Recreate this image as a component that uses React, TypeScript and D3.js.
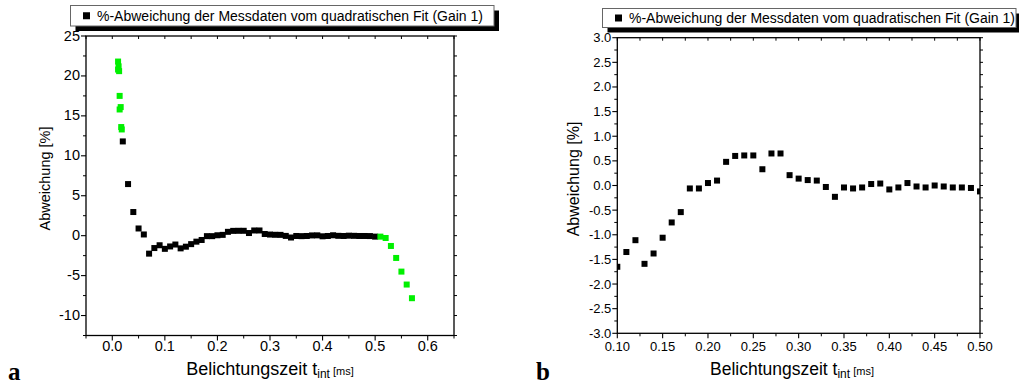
import React from "react";
import * as d3 from "d3";

// ---------- DATA ----------
// Panel a: green (excluded) points at the start
const aGreenStartX = [0.011, 0.012, 0.011, 0.013, 0.014, 0.016, 0.014, 0.017, 0.018];
const aGreenStartY = [21.8, 21.2, 20.8, 20.6, 17.5, 16.1, 15.8, 13.6, 13.3];
// Panel a: green (excluded) points at the end
const aGreenEndX = [0.51, 0.52, 0.53, 0.54, 0.55, 0.56, 0.57];
const aGreenEndY = [-0.12, -0.29, -1.29, -2.79, -4.5, -6.12, -7.83];
// Panel a: early black points (before 0.10)
const aEarlyX = [0.02, 0.03, 0.04, 0.05, 0.06, 0.07, 0.08, 0.09];
const aEarlyY = [11.8, 6.46, 2.96, 0.9, 0.15, -2.25, -1.55, -1.2];
// Black points 0.10 .. 0.50 (shared by both panels)
const mainX = [
  0.10, 0.11, 0.12, 0.13, 0.14, 0.15, 0.16, 0.17, 0.18, 0.19,
  0.20, 0.21, 0.22, 0.23, 0.24, 0.25, 0.26, 0.27, 0.28, 0.29,
  0.30, 0.31, 0.32, 0.33, 0.34, 0.35, 0.36, 0.37, 0.38, 0.39,
  0.40, 0.41, 0.42, 0.43, 0.44, 0.45, 0.46, 0.47, 0.48, 0.49, 0.50,
];
const mainY = [
  -1.65, -1.35, -1.11, -1.59, -1.38, -1.06, -0.75, -0.54, -0.06, -0.06,
  0.05, 0.10, 0.48, 0.60, 0.61, 0.61, 0.33, 0.65, 0.65, 0.21,
  0.14, 0.11, 0.10, -0.03, -0.23, -0.04, -0.06, -0.04, 0.03, 0.04,
  -0.08, -0.04, 0.05, -0.02, -0.04, 0.00, -0.02, -0.04, -0.04, -0.05, -0.12,
];

// Tick values
const aXMajor = [0.0, 0.1, 0.2, 0.3, 0.4, 0.5, 0.6];
const aXMinor = [-0.05, 0.05, 0.15, 0.25, 0.35, 0.45, 0.55, 0.65];
const aYMajor = [-10, -5, 0, 5, 10, 15, 20, 25];
const aYMinor = [-12.5, -7.5, -2.5, 2.5, 7.5, 12.5, 17.5, 22.5];
const bXMajor = [0.10, 0.15, 0.20, 0.25, 0.30, 0.35, 0.40, 0.45, 0.50];
const bXMinor = [0.125, 0.175, 0.225, 0.275, 0.325, 0.375, 0.425, 0.475];
const bYMajor = [-3.0, -2.5, -2.0, -1.5, -1.0, -0.5, 0.0, 0.5, 1.0, 1.5, 2.0, 2.5, 3.0];
const bYMinor = [-2.75, -2.25, -1.75, -1.25, -0.75, -0.25, 0.25, 0.75, 1.25, 1.75, 2.25, 2.75];

const legendText = "%-Abweichung der Messdaten vom quadratischen Fit (Gain 1)";
const yTitle = "Abweichung [%]";
const xTitleMain = "Belichtungszeit t";
const xTitleSub = "int";
const xTitleUnit = " [ms]";

const GREEN = "#00f000";
const FONT = "'Liberation Sans', Arial, Helvetica, sans-serif";

type Series = { xs: number[]; ys: number[]; color: string };

type PanelProps = {
  id: string;
  xDomain: [number, number];
  yDomain: [number, number];
  left: number;
  right: number;
  top: number;
  bottom: number;
  xMajor: number[];
  xMinor: number[];
  yMajor: number[];
  yMinor: number[];
  xFmt: (v: number) => string;
  yFmt: (v: number) => string;
  tickFont: number;
  series: Series[];
  legend: { x0: number; x1: number; y0: number; y1: number };
  yTitleX: number;
  yTitleY: number;
  yTitleFont: number;
  xTitleX: number;
  xTitleFont: number;
  letter: string;
  letterX: number;
  marker: number;
};

const fmt = (digits: number) => (v: number) => {
  const s = Math.abs(v) < 1e-9 ? (0).toFixed(digits) : v.toFixed(digits);
  return s;
};

function Panel(p: PanelProps) {
  const x = d3.scaleLinear().domain(p.xDomain).range([p.left, p.right]);
  const y = d3.scaleLinear().domain(p.yDomain).range([p.bottom, p.top]);
  const clipId = `clip-${p.id}`;
  const sw = 1.3;
  const m = p.marker;
  return (
    <g>
      <defs>
        <clipPath id={clipId}>
          <rect x={p.left} y={p.top} width={p.right - p.left} height={p.bottom - p.top} />
        </clipPath>
      </defs>
      {/* legend */}
      <rect x={p.legend.x0 + 5} y={p.legend.y0 + 5} width={p.legend.x1 - p.legend.x0} height={p.legend.y1 - p.legend.y0} fill="#000" />
      <rect x={p.legend.x0} y={p.legend.y0} width={p.legend.x1 - p.legend.x0} height={p.legend.y1 - p.legend.y0} fill="#fff" stroke="#666" strokeWidth={1} />
      <rect x={p.legend.x0 + 12.5} y={(p.legend.y0 + p.legend.y1) / 2 - 3.5} width={7} height={7} fill="#000" />
      <text x={p.legend.x0 + 26.5} y={(p.legend.y0 + p.legend.y1) / 2 + 5} fontFamily={FONT} fontSize={14} fill="#000">
        {legendText}
      </text>

      {/* markers */}
      <g clipPath={`url(#${clipId})`}>
        {p.series.map((s, si) =>
          s.xs.map((xv, i) => (
            <rect key={`${si}-${i}`} x={x(xv) - m / 2} y={y(s.ys[i]) - m / 2} width={m} height={m} fill={s.color} />
          ))
        )}
      </g>

      {/* frame */}
      <rect x={p.left} y={p.top} width={p.right - p.left} height={p.bottom - p.top} fill="none" stroke="#000" strokeWidth={sw} />

      {/* bottom ticks */}
      {p.xMajor.map((v) => (
        <g key={`xb${v}`}>
          <line x1={x(v)} x2={x(v)} y1={p.bottom} y2={p.bottom + 5} stroke="#000" strokeWidth={1.1} />
          <line x1={x(v)} x2={x(v)} y1={p.top} y2={p.top + 3} stroke="#000" strokeWidth={1} />
          <text x={x(v)} y={351} textAnchor="middle" fontFamily={FONT} fontSize={p.tickFont} fill="#000">
            {p.xFmt(v)}
          </text>
        </g>
      ))}
      {p.xMinor.map((v) => (
        <g key={`xm${v}`}>
          <line x1={x(v)} x2={x(v)} y1={p.bottom} y2={p.bottom + 3} stroke="#000" strokeWidth={1} />
          <line x1={x(v)} x2={x(v)} y1={p.top} y2={p.top + 3} stroke="#000" strokeWidth={1} />
        </g>
      ))}
      {/* left / right ticks */}
      {p.yMajor.map((v) => (
        <g key={`yl${v}`}>
          <line x1={p.left - 5} x2={p.left} y1={y(v)} y2={y(v)} stroke="#000" strokeWidth={1.1} />
          <line x1={p.right} x2={p.right + 3} y1={y(v)} y2={y(v)} stroke="#000" strokeWidth={1} />
          <text x={p.left - 6} y={y(v) + 4.5} textAnchor="end" fontFamily={FONT} fontSize={p.tickFont} fill="#000">
            {p.yFmt(v)}
          </text>
        </g>
      ))}
      {p.yMinor.map((v) => (
        <g key={`ym${v}`}>
          <line x1={p.left - 3} x2={p.left} y1={y(v)} y2={y(v)} stroke="#000" strokeWidth={1} />
          <line x1={p.right} x2={p.right + 3} y1={y(v)} y2={y(v)} stroke="#000" strokeWidth={1} />
        </g>
      ))}

      {/* axis titles */}
      <text
        transform={`translate(${p.yTitleX},${p.yTitleY}) rotate(-90)`}
        textAnchor="middle"
        fontFamily={FONT}
        fontSize={p.yTitleFont}
        fill="#000"
      >
        {yTitle}
      </text>
      <text x={p.xTitleX} y={375} textAnchor="middle" fontFamily={FONT} fontSize={p.xTitleFont} fill="#000">
        {xTitleMain}
        <tspan fontSize={12} dy={3}>{xTitleSub}</tspan>
        <tspan fontSize={11} dy={-3}>{xTitleUnit}</tspan>
      </text>
      <text x={p.letterX} y={380} fontFamily="'Liberation Serif', 'DejaVu Serif', serif" fontWeight="bold" fontSize={25} fill="#000">
        {p.letter}
      </text>
    </g>
  );
}

export default function App() {
  const aBlackX = [...aEarlyX, ...mainX];
  const aBlackY = [...aEarlyY, ...mainY];
  return (
    <svg width={1019} height={385} style={{ position: "absolute", left: 0, top: 0, background: "#fff" }}>
      <rect x={0} y={0} width={1019} height={385} fill="#fff" />
      <Panel
        id="a"
        xDomain={[-0.05, 0.65]}
        yDomain={[-12.5, 25]}
        left={86}
        right={454}
        top={36}
        bottom={335.5}
        xMajor={aXMajor}
        xMinor={aXMinor}
        yMajor={aYMajor}
        yMinor={aYMinor}
        xFmt={fmt(1)}
        yFmt={fmt(0)}
        tickFont={14.5}
        series={[
          { xs: aBlackX, ys: aBlackY, color: "#000" },
          { xs: aGreenStartX, ys: aGreenStartY, color: GREEN },
          { xs: aGreenEndX, ys: aGreenEndY, color: GREEN },
        ]}
        legend={{ x0: 70.5, x1: 494, y0: 5.5, y1: 26 }}
        yTitleX={50}
        yTitleY={178.5}
        yTitleFont={14.5}
        xTitleX={270}
        xTitleFont={18}
        letter="a"
        letterX={8}
        marker={6}
      />
      <Panel
        id="b"
        xDomain={[0.1, 0.5]}
        yDomain={[-3, 3]}
        left={617.3}
        right={980}
        top={37.7}
        bottom={333.3}
        xMajor={bXMajor}
        xMinor={bXMinor}
        yMajor={bYMajor}
        yMinor={bYMinor}
        xFmt={fmt(2)}
        yFmt={fmt(1)}
        tickFont={13}
        series={[{ xs: mainX, ys: mainY, color: "#000" }]}
        legend={{ x0: 602.5, x1: 1016, y0: 8.5, y1: 27.5 }}
        yTitleX={579}
        yTitleY={179}
        yTitleFont={16}
        xTitleX={792}
        xTitleFont={17.5}
        letter="b"
        letterX={536}
        marker={6}
      />
    </svg>
  );
}
